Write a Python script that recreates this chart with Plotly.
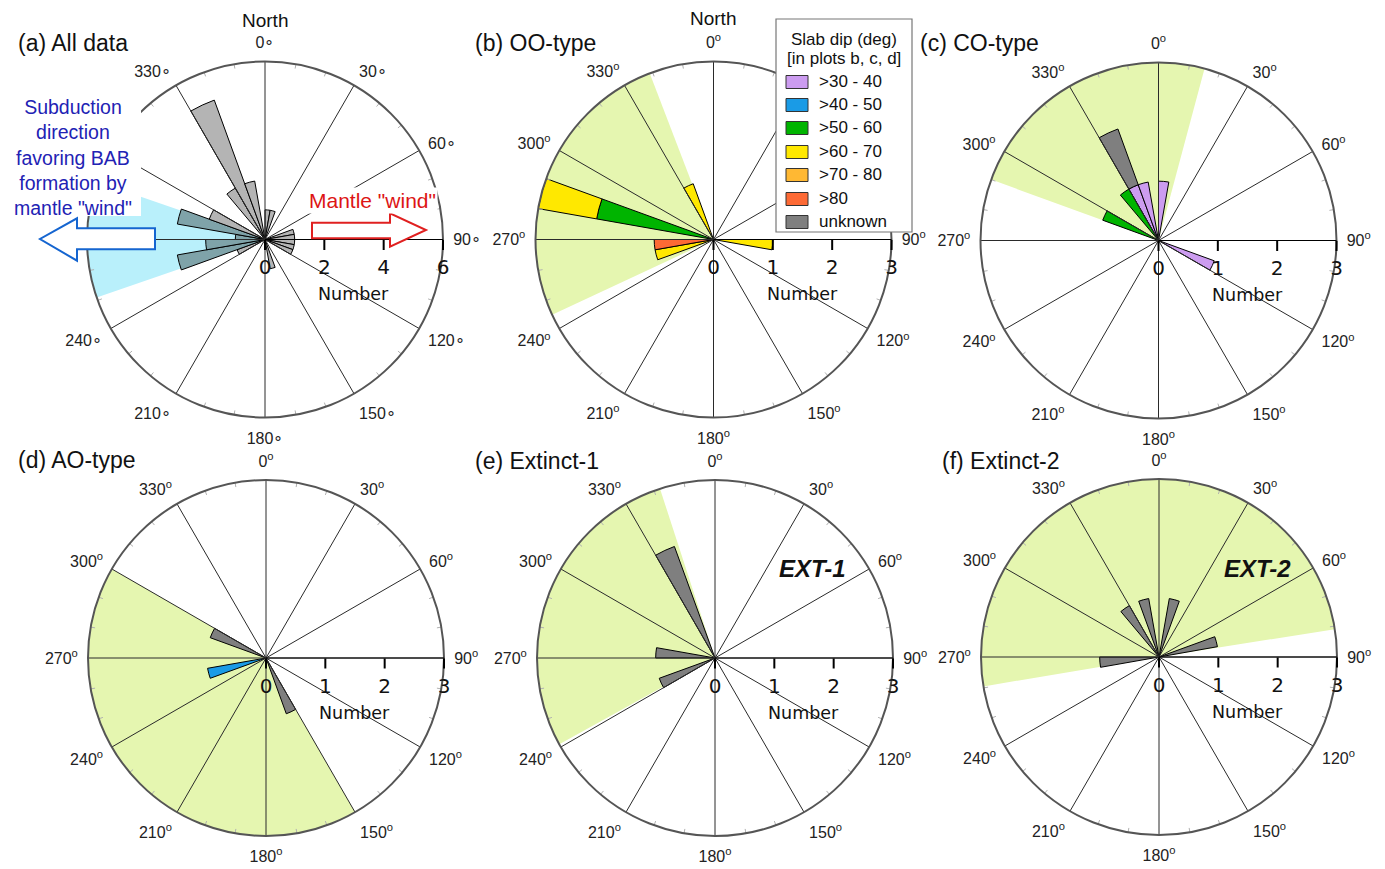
import plotly.graph_objects as go

# Page geometry: the figure div sits inside the page body (8 px default margin)
PAGE_W, PAGE_H = 1385, 869
OFF = 8
W, H = PAGE_W - OFF, PAGE_H - OFF
R = 178  # polar radius in px

# ---------------- data ----------------
cat_names = [">30 - 40", ">40 - 50", ">50 - 60", ">60 - 70", ">70 - 80", ">80", "unknown"]
cat_colors = ["#cc9cf0", "#1a9be6", "#00b400", "#ffe800", "#ffb833", "#fd6a35", "#7f7f7f"]

# (a) All data: 10-deg bin centres and counts
a_theta = [5, 15, 75, 85, 95, 105, 115, 165, 245, 255, 265, 275, 285, 295, 325, 335, 345]
a_count = [1, 1, 1, 1, 1, 1, 1, 1, 1, 3, 2, 1, 3, 2, 2, 5, 2]

# (b) OO-type
b_green_theta = [285]
b_green_count = [2]
b_yellow_theta = [285, 335, 255, 95]
b_yellow_count = [1, 1, 1, 1]
b_red_theta = [265]
b_red_count = [1]

# (c) CO-type
c_lav_theta = [335, 345, 5, 115]
c_lav_count = [1, 1, 1, 1]
c_green_theta = [325, 295]
c_green_count = [1, 1]
c_unk_theta = [335]
c_unk_count = [1]

# (d) AO-type
d_blue_theta = [255]
d_blue_count = [1]
d_unk_theta = [295, 155]
d_unk_count = [1, 1]

# (e) Extinct-1
e_unk_theta = [335, 275, 245]
e_unk_count = [2, 1, 1]

# (f) Extinct-2
f_unk_theta = [325, 345, 15, 75, 265]
f_unk_count = [1, 1, 1, 1, 1]

# shaded sectors (start, end) in compass degrees
shade_a = (251, 289)
shade_b = (245, 339)
shade_c = (290, 375)
shade_d = (150, 300)
shade_e = (241, 342)
shade_f = (260.5, 441)

spoke_angles = list(range(0, 360, 30))
minor_angles = [a for a in range(0, 360, 10) if a % 30]

# ---------------- layout helpers ----------------
centers = {
    "polar":  (265, 239.5),
    "polar2": (713.5, 239.5),
    "polar3": (1158.5, 240.5),
    "polar4": (266, 658),
    "polar5": (715, 658),
    "polar6": (1159, 657),
}
LIGHT_GREEN = "#e5f6b0"
CYAN = "#b9f0fb"

fig = go.Figure()


def shade(sub, s, e, rmax, color):
    fig.add_trace(go.Barpolar(r=[rmax], theta=[(s + e) / 2], width=[e - s], base=0,
                              marker=dict(color=color, line=dict(width=0)),
                              subplot=sub, showlegend=False, hoverinfo="skip"))


def spokes(sub, rmax):
    rr, tt = [], []
    for a in spoke_angles:
        rr += [0, rmax, None]
        tt += [a, a, None]
    fig.add_trace(go.Scatterpolar(r=rr, theta=tt, mode="lines",
                                  line=dict(color="#2a2a2a", width=1),
                                  subplot=sub, showlegend=False, hoverinfo="skip"))
    rr, tt = [], []
    for a in minor_angles:
        rr += [rmax * 0.975, rmax, None]
        tt += [a, a, None]
    fig.add_trace(go.Scatterpolar(r=rr, theta=tt, mode="lines",
                                  line=dict(color="#b0b0b0", width=1),
                                  subplot=sub, showlegend=False, hoverinfo="skip"))


def stacked(sub, series):
    base = {}
    for ci, th, ct in series:
        b = [base.get(t, 0) for t in th]
        fig.add_trace(go.Barpolar(r=ct, theta=th, width=[10] * len(th), base=b,
                                  marker=dict(color=cat_colors[ci], line=dict(color="black", width=1)),
                                  subplot=sub, showlegend=False, name=cat_names[ci]))
        for t, c in zip(th, ct):
            base[t] = base.get(t, 0) + c


# (a)
shade("polar", shade_a[0], shade_a[1], 6, CYAN)
a_cols = ["#7fa3a9" if shade_a[0] <= t <= shade_a[1] else "#b4b4b4" for t in a_theta]
fig.add_trace(go.Barpolar(r=a_count, theta=a_theta, width=[10] * len(a_theta), base=[0] * len(a_theta),
                          marker=dict(color=a_cols, line=dict(color="black", width=1)),
                          subplot="polar", showlegend=False, name="all data"))
spokes("polar", 6)

# (b)
shade("polar2", shade_b[0], shade_b[1], 3, LIGHT_GREEN)
stacked("polar2", [(2, b_green_theta, b_green_count), (3, b_yellow_theta, b_yellow_count),
                   (5, b_red_theta, b_red_count)])
spokes("polar2", 3)

# (c)
shade("polar3", shade_c[0], shade_c[1], 3, LIGHT_GREEN)
stacked("polar3", [(0, c_lav_theta, c_lav_count), (2, c_green_theta, c_green_count),
                   (6, c_unk_theta, c_unk_count)])
spokes("polar3", 3)

# (d)
shade("polar4", shade_d[0], shade_d[1], 3, LIGHT_GREEN)
stacked("polar4", [(1, d_blue_theta, d_blue_count), (6, d_unk_theta, d_unk_count)])
spokes("polar4", 3)

# (e)
shade("polar5", shade_e[0], shade_e[1], 3, LIGHT_GREEN)
stacked("polar5", [(6, e_unk_theta, e_unk_count)])
spokes("polar5", 3)

# (f)
shade("polar6", shade_f[0], shade_f[1], 3, LIGHT_GREEN)
stacked("polar6", [(6, f_unk_theta, f_unk_count)])
spokes("polar6", 3)


def polar_layout(key, rmax, rticks, deg, hidden=()):
    cx, cy = centers[key]
    cx, cy = cx - OFF, cy - OFF
    return dict(
        domain=dict(x=[(cx - R) / W, (cx + R) / W], y=[(H - cy - R) / H, (H - cy + R) / H]),
        bgcolor="rgba(0,0,0,0)",
        barmode="overlay",
        angularaxis=dict(rotation=90, direction="clockwise", tickmode="array",
                         tickvals=[v for v in spoke_angles if v not in hidden],
                         ticktext=[f"{v}{deg}" for v in spoke_angles if v not in hidden],
                         ticks="outside", ticklen=6, tickcolor="rgba(0,0,0,0)", showgrid=False,
                         showline=True, linecolor="#555555", linewidth=2,
                         tickfont=dict(family="Liberation Sans, Arial", size=16, color="#222")),
        radialaxis=dict(range=[0, rmax], tickmode="array", tickvals=rticks,
                        ticktext=[str(t) for t in rticks], angle=0, side="clockwise",
                        ticks="outside", ticklen=10, tickcolor="black", tickwidth=1.5,
                        showline=True, linecolor="black", linewidth=1, showgrid=False,
                        tickfont=dict(family="DejaVu Sans", size=20, color="#111")),
    )


sup = "<sup>o</sup>"
fig.update_layout(
    width=W, height=H, margin=dict(l=0, r=0, t=0, b=0),
    paper_bgcolor="white", showlegend=False,
    polar=polar_layout("polar", 6, [0, 2, 4, 6], "∘", hidden=(270,)),
    polar2=polar_layout("polar2", 3, [0, 1, 2, 3], sup),
    polar3=polar_layout("polar3", 3, [0, 1, 2, 3], sup),
    polar4=polar_layout("polar4", 3, [0, 1, 2, 3], sup),
    polar5=polar_layout("polar5", 3, [0, 1, 2, 3], sup),
    polar6=polar_layout("polar6", 3, [0, 1, 2, 3], sup),
)


def px(x):
    return (x - OFF) / W


def py(y):
    return 1 - (y - OFF) / H


ann = []


def text(x, y, s, size, color="#111", family="Liberation Sans, Arial", xanchor="center", bg=None, pad=1):
    d = dict(x=px(x), y=py(y), xref="paper", yref="paper", text=s, showarrow=False,
             font=dict(size=size, color=color, family=family), xanchor=xanchor, yanchor="middle",
             borderpad=pad)
    if bg:
        d["bgcolor"] = bg
    ann.append(d)


shapes = []


def rect(x0, y0, x1, y1, fill, line_color=None, lw=1):
    shapes.append(dict(type="rect", xref="paper", yref="paper", x0=px(x0), x1=px(x1), y0=py(y1), y1=py(y0),
                       line=dict(color=line_color or fill, width=lw if line_color else 0),
                       fillcolor=fill, layer="above"))


def path_shape(pts, line_color, fill="white", width=2):
    p = "M " + " L ".join(f"{px(x):.5f},{py(y):.5f}" for x, y in pts) + " Z"
    shapes.append(dict(type="path", path=p, xref="paper", yref="paper",
                       line=dict(color=line_color, width=width), fillcolor=fill, layer="above"))


# panel titles
text(16, 43, "(a) All data", 23, xanchor="left")
text(473, 43, "(b) OO-type", 23, xanchor="left")
text(918, 43, "(c) CO-type", 23, xanchor="left")
text(16, 460, "(d) AO-type", 23, xanchor="left")
text(473, 461, "(e) Extinct-1", 23, xanchor="left")
text(940, 461, "(f) Extinct-2", 23, xanchor="left")

text(265, 21, "North", 19)
text(713, 18, "North", 19)

for key in centers:
    cx, cy = centers[key]
    text(cx + 88.5, cy + 54.5, "Number", 17.5, family="DejaVu Sans")

text(812, 568, "<b><i>EXT-1</i></b>", 24)
text(1257, 568, "<b><i>EXT-2</i></b>", 24)

# white panel behind the blue explanatory text (covers circle & shading like the original)
rect(4, 93, 141, 216, "white")
text(73, 157, "Subduction<br>direction<br>favoring BAB<br>formation by<br>mantle \"wind\"", 19.5,
     color="#2222b4")
text(372, 201, "Mantle \"wind\"", 21, color="#dd1515", bg="white", pad=1)

# red arrow (right)
path_shape([(312, 222.7), (390, 222.7), (390, 213.3), (426, 230), (390, 246.7), (390, 238.3), (312, 238.3)],
           "#e02020")
# blue arrow (left)
path_shape([(155, 228.3), (77, 228.3), (77, 218.3), (40, 239), (77, 260.7), (77, 249.3), (155, 249.3)],
           "#1565d0")

# legend box
rect(776, 19, 912, 232, "white", line_color="#777", lw=1.2)
text(844, 39, "Slab dip (deg)", 17)
text(844, 59, "[in plots b, c, d]", 17)
item_y = [82, 105, 128, 152, 175, 199, 222]
for name, col, yy in zip(cat_names, cat_colors, item_y):
    rect(786, yy - 6.5, 808, yy + 6.5, col, line_color="#333", lw=1)
    text(817, yy, name, 17, xanchor="left")

fig.update_layout(annotations=ann, shapes=shapes)
fig.write_html("out.html")
